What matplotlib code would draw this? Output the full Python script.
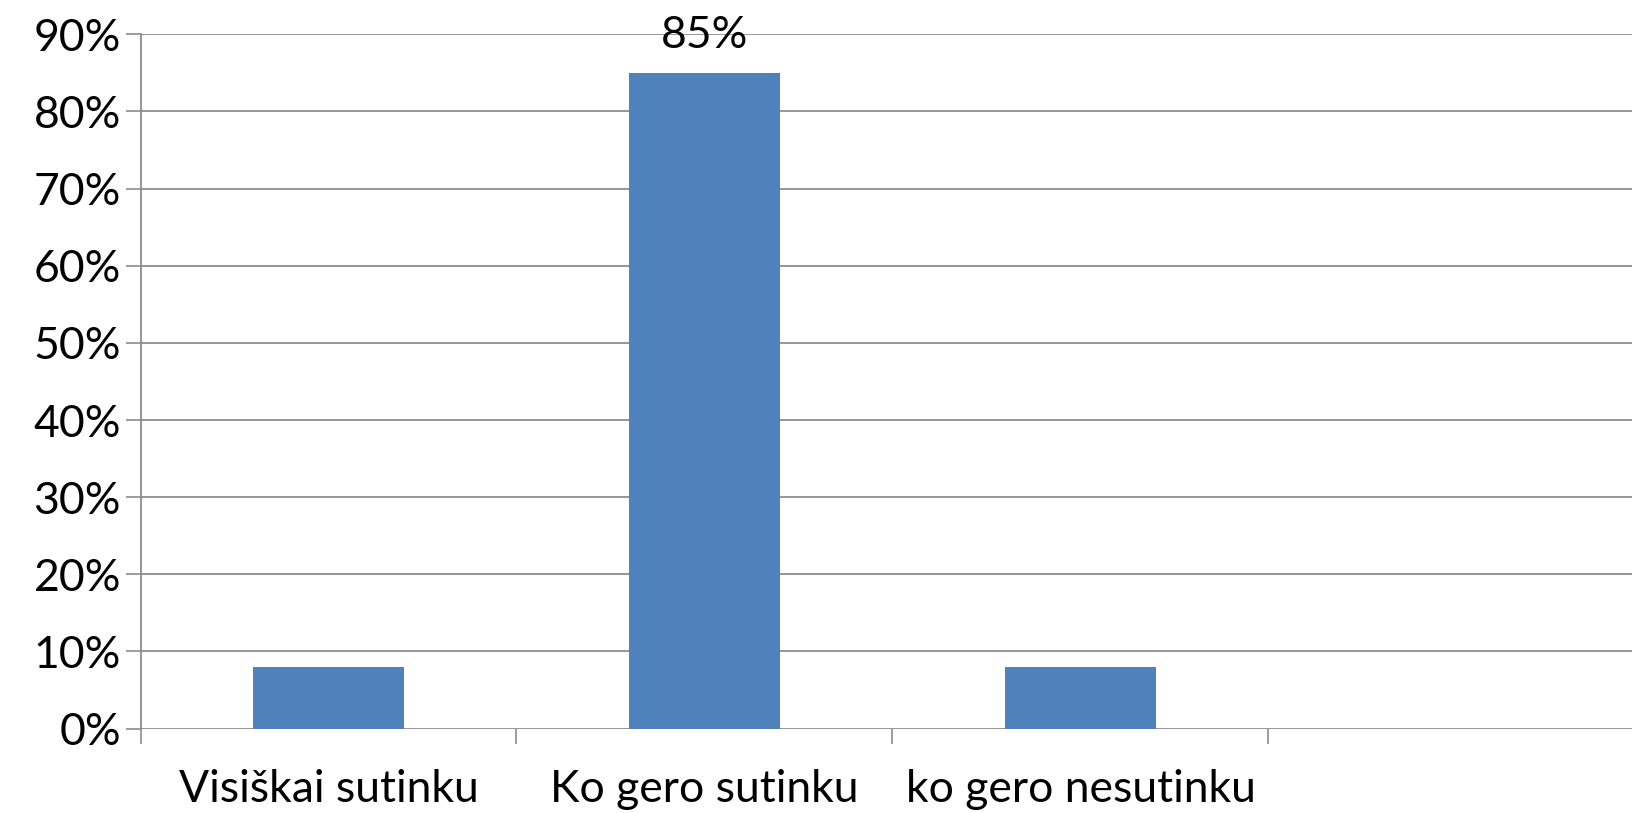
import numpy as np
import matplotlib.pyplot as plt
from matplotlib.ticker import PercentFormatter

# data
categories = ["Visiškai sutinku", "Ko gero sutinku", "ko gero nesutinku", ""]
values = [8, 85, 8, 0]
labeled = [False, True, False, False]

plt.rcParams['font.family'] = ['Lato', 'DejaVu Sans']

fig = plt.figure(figsize=(16.32, 8.13), dpi=100)
ax = fig.add_axes([0.0861, 0.1038, 1 - 0.0861, 0.9578 - 0.1038])

bar_color = '#4F81BD'
grid_color = '#8C8C8C'
fs = 32

x = np.arange(len(categories))
ax.bar(x[:3], values[:3], width=0.4, color=bar_color, zorder=3)

for xi, v, show in zip(x, values, labeled):
    if show:
        ax.annotate(f"{v}%", (xi, v), xytext=(0, 18), textcoords='offset points',
                    ha='center', va='baseline', fontsize=fs, zorder=4)

ax.set_ylim(0, 90)
ax.set_yticks(np.arange(0, 91, 10))
ax.yaxis.set_major_formatter(PercentFormatter(decimals=0))
ax.set_xlim(-0.5, 3.467)

# category boundaries as x ticks
ax.set_xticks(np.arange(0, 4) - 0.5)
ax.set_xticklabels([])
ax.set_xticks(x, labels=categories, minor=True)
ax.tick_params(axis='x', which='major', length=11, width=1.2, color=grid_color, direction='out')
ax.tick_params(axis='x', which='minor', length=0, pad=29, labelsize=fs)
ax.tick_params(axis='y', length=11, width=1.2, color=grid_color, pad=3, labelsize=fs)

ax.yaxis.grid(True, color=grid_color, linewidth=1.3, zorder=0)
for s in ['top', 'right', 'bottom']:
    ax.spines[s].set_visible(False)
ax.spines['left'].set_color(grid_color)
ax.spines['left'].set_linewidth(1.3)

fig.savefig("out.png", dpi=100)
